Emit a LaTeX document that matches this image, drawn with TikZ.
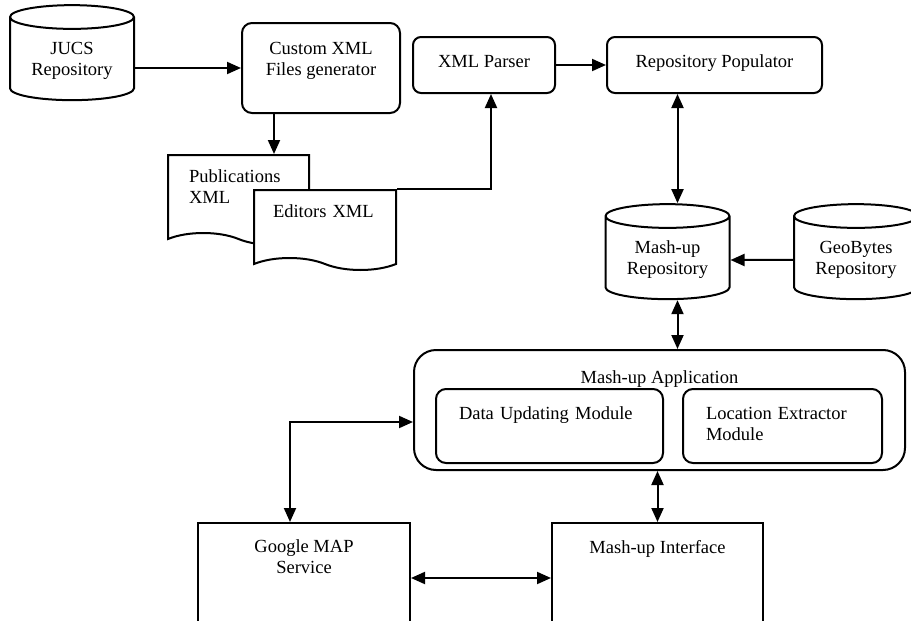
\documentclass[tikz,border=0pt]{standalone}
\usepackage{fontspec}
\setmainfont{Liberation Serif}
\usetikzlibrary{arrows.meta,shapes.geometric,shapes.symbols}

\begin{document}
\begin{tikzpicture}[x=1pt,y=-1pt,line width=2pt,
  >={Triangle[length=14pt,width=12pt]},
  font=\fontsize{18.5}{21}\selectfont,
  repo/.style={cylinder,shape border rotate=90,aspect=0.27,draw,fill=white,
    align=center,minimum width=124pt,minimum height=95pt},
  proc/.style={draw,rounded corners=10pt,align=center,text height=13pt},
  doc/.style={tape,tape bend top=none,tape bend bottom=out and in,
    tape bend height=12pt,draw,fill=white,align=left,text height=13pt},
  module/.style={draw,rounded corners=10pt,align=left,text height=13pt,
    inner xsep=23pt,minimum height=74pt,text depth=27pt},
  service/.style={draw,align=center,minimum width=212pt,minimum height=110pt,
    text height=34pt,text depth=44pt}]
\useasboundingbox (0,0) rectangle (911,621);
\clip (0,0) rectangle (911,621);
\node[repo] (jucs) at (72,61) {JUCS\\Repository};
\node[proc,minimum width=158pt,minimum height=90pt,text height=34pt,text depth=20pt] (custom) at (321,68) {Custom XML\\Files generator};
\node[proc,rounded corners=8pt,minimum width=142pt,minimum height=56pt,text depth=9pt] (parser) at (484,65) {XML Parser};
\node[proc,rounded corners=8pt,minimum width=215pt,minimum height=56pt,text depth=9pt] (pop) at (714.5,65) {Repository Populator};
\node[doc,text width=99pt,inner xsep=21pt,minimum height=90pt,text depth=37pt] (pub) at (238.5,194) {Publications\\XML};
\node[doc,text width=104pt,inner xsep=19pt,minimum height=80pt,text depth=27pt] (ed) at (325,224) {Editors XML};
\node[repo] (mashrepo) at (667.5,260) {Mash-up\\Repository};
\node[repo] (geo) at (856,260) {GeoBytes\\Repository};
\node[draw,rounded corners=22pt,minimum width=491pt,minimum height=120pt,text height=13pt,text depth=67pt] (app) at (659.5,410) {Mash-up Application};
\node[module,text width=181pt] (data) at (549.5,426) {Data Updating Module};
\node[module,text width=153pt] (loc) at (782.5,426) {Location Extractor\\Module};
\node[service] (google) at (304,578) {Google MAP\\Service};
\node[service,minimum width=211pt,text height=13pt,text depth=63pt] (iface) at (657.5,578) {Mash-up Interface};
\draw[->] (jucs.east |- custom.west) -- (custom.west);
\draw[->] ([xshift=-47pt]custom.south) -- ([xshift=-47pt]custom.south |- pub.north);
\draw[->] (ed.north east) -| ([xshift=7pt]parser.south);
\draw[->] (parser) -- (pop);
\draw[<->] ([xshift=10pt]mashrepo.north) -- ([xshift=10pt]mashrepo.north |- pop.south);
\draw[->] (geo) -- (mashrepo);
\draw[<->] ([xshift=10pt]mashrepo.south) -- ([xshift=10pt]mashrepo.south |- app.north);
\draw[<->] ([xshift=-14pt]google.north) |- ([yshift=-12pt]app.west);
\draw[<->] (google) -- (iface);
\draw[<->] (app.south -| iface.north) -- (iface.north);
\end{tikzpicture}
\end{document}
